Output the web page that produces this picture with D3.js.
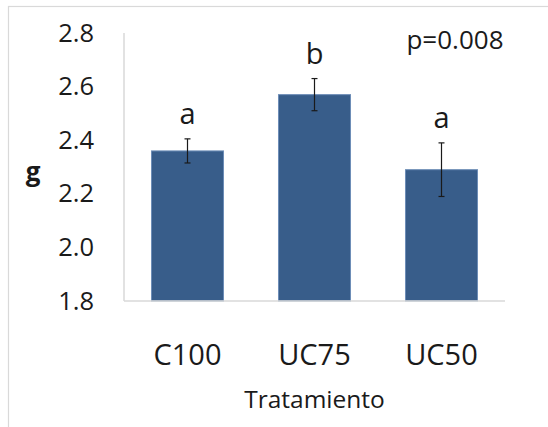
<!DOCTYPE html>
<html>
<head>
<meta charset="utf-8">
<script src="https://cdn.jsdelivr.net/npm/d3@7"></script>
<style>
  body { margin: 0; background: #fff; }
  svg { display: block; font-family: "Open Sans", sans-serif; }
</style>
</head>
<body>
<div id="chart"></div>
<script>
// values
const categories = ['C100', 'UC75', 'UC50'];
const means = [2.36, 2.57, 2.29];
const errors = [0.045, 0.06, 0.10];
const letters = ['a', 'b', 'a'];
const yTicks = [1.8, 2.0, 2.2, 2.4, 2.6, 2.8];

const width = 548, height = 427;
const plotLeft = 124, plotRight = 505, plotTop = 33, plotBottom = 301;

const svg = d3.select('#chart').append('svg').attr('width', width).attr('height', height);

// outer chart frame
svg.append('rect')
  .attr('x', 8.5).attr('y', 6.5)
  .attr('width', width + 20).attr('height', height + 20)
  .attr('fill', 'none').attr('stroke', '#d9d9d9').attr('stroke-width', 1.2);

const x = d3.scaleBand().domain(categories).range([plotLeft, plotRight])
  .paddingInner(0.433).paddingOuter(0.2165);
const y = d3.scaleLinear().domain([1.8, 2.8]).range([plotBottom, plotTop]);

// y axis labels (no tick marks)
const yAxis = svg.append('g').attr('transform', `translate(${plotLeft},0)`)
  .call(d3.axisLeft(y).tickValues(yTicks).tickFormat(d3.format('.1f')).tickSize(0).tickPadding(30));
yAxis.select('.domain').remove();
yAxis.selectAll('text').attr('font-size', 25.5).attr('fill', '#1a1a1a').attr('font-family', '"Open Sans", sans-serif');

// bars
svg.selectAll('rect.bar').data(categories).enter().append('rect')
  .attr('class', 'bar')
  .attr('x', d => x(d))
  .attr('y', (d, i) => y(means[i]))
  .attr('width', x.bandwidth())
  .attr('height', (d, i) => y(1.8) - y(means[i]))
  .attr('fill', '#385d8a')
  .attr('stroke', '#6d8db7').attr('stroke-width', 1);

// axis lines
svg.append('line').attr('x1', plotLeft).attr('x2', plotLeft).attr('y1', y(2.8)).attr('y2', y(1.8))
  .attr('stroke', '#d9d9d9').attr('stroke-width', 1.5);
svg.append('line').attr('x1', plotLeft).attr('x2', plotRight).attr('y1', y(1.8)).attr('y2', y(1.8))
  .attr('stroke', '#d9d9d9').attr('stroke-width', 1.5);

// error bars
const eb = svg.selectAll('g.err').data(categories).enter().append('g').attr('class', 'err')
  .attr('stroke', '#1a1a1a').attr('stroke-width', 1.2);
const cx = d => x(d) + x.bandwidth() / 2;
eb.append('line').attr('x1', cx).attr('x2', cx)
  .attr('y1', (d, i) => y(means[i] + errors[i])).attr('y2', (d, i) => y(means[i] - errors[i]));
eb.append('line').attr('x1', d => cx(d) - 3).attr('x2', d => cx(d) + 3)
  .attr('y1', (d, i) => y(means[i] + errors[i])).attr('y2', (d, i) => y(means[i] + errors[i]));
eb.append('line').attr('x1', d => cx(d) - 3).attr('x2', d => cx(d) + 3)
  .attr('y1', (d, i) => y(means[i] - errors[i])).attr('y2', (d, i) => y(means[i] - errors[i]));

// significance letters
svg.selectAll('text.letter').data(categories).enter().append('text')
  .attr('class', 'letter')
  .attr('x', cx)
  .attr('y', (d, i) => y(means[i] + errors[i]) - 15)
  .attr('text-anchor', 'middle')
  .attr('font-size', 29).attr('fill', '#1a1a1a')
  .text((d, i) => letters[i]);

// category labels
svg.selectAll('text.cat').data(categories).enter().append('text')
  .attr('class', 'cat')
  .attr('x', cx).attr('y', 365)
  .attr('text-anchor', 'middle')
  .attr('font-size', 29).attr('fill', '#1a1a1a')
  .text(d => d);

// axis titles
svg.append('text').attr('x', (plotLeft + plotRight) / 2).attr('y', 408)
  .attr('text-anchor', 'middle').attr('font-size', 24.5).attr('fill', '#1a1a1a')
  .text('Tratamiento');
svg.append('text').attr('x', 33).attr('y', 181)
  .attr('text-anchor', 'middle').attr('font-size', 26).attr('font-weight', 'bold').attr('fill', '#1a1a1a')
  .text('g');

svg.append('text').attr('x', 455).attr('y', 49)
  .attr('text-anchor', 'middle').attr('font-size', 26).attr('fill', '#1a1a1a')
  .text('p=0.008');
</script>
</body>
</html>
